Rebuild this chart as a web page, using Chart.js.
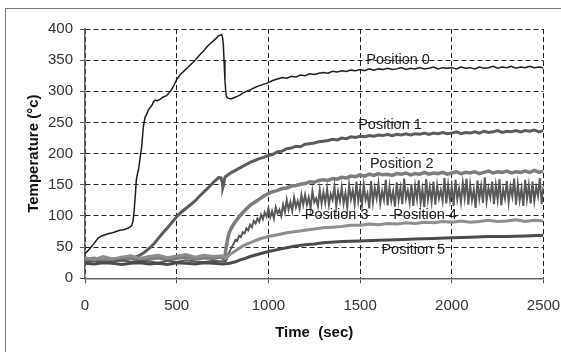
<!DOCTYPE html>
<html>
<head>
<meta charset="utf-8">
<script src="https://cdn.jsdelivr.net/npm/chart.js@4"></script>
<style>
  html, body { margin: 0; padding: 0; background: #fff; overflow: hidden; }
  #wrap { position: relative; width: 561px; height: 352px; overflow: hidden; }
  #frame { position: absolute; left: 5px; top: 8px; width: 600px; height: 400px;
           border-left: 1.5px solid #777; border-top: 1.5px solid #777; pointer-events: none; }
  canvas { position: absolute; left: 0; top: 0; }
</style>
</head>
<body>
<div id="wrap">
  <canvas id="chart" width="561" height="352"></canvas>
  <div id="frame"></div>
</div>
<script>
// time (sec) / temperature (°c) readings for each position
const pos0Time = [0,15,30,50,70,90,110,130,150,170,190,210,230,245,255,262,268,274,280,286,292,300,309,318,327,336,345,355,364,373,382,395,409,427,445,460,473,487,500,520,545,570,591,610,630,650,664,680,700,715,727,738,745,750,754,758,763,768,772,780,790,800,815,830,845,860,880,900,918,940,960,980,1000,1020,1040,1063,
  1075,1100,1125,1150,1175,1200,1225,1250,1275,1300,1325,1350,1375,1400,1425,1450,1475,1500,1525,1550,1575,1600,1625,1650,1675,1700,1725,1750,1775,1800,1825,1850,1875,1900,1925,1950,1975,2000,2025,2050,2075,2100,2125,2150,2175,2200,2225,2250,2275,2300,2325,2350,2375,2400,2425,2450,2475,2500];
const pos0Temp = [40,44,49,56,64,68,70,72,73,75,77,78,80,82,85,92,108,132,158,168,175,192,211,243,258,263,270,274,277,283,286,285,287,291,293,298,303,311,319,327,334,341,347,353,360,366,371,376,381,385,389,390,391,386,376,350,318,298,291,289,288,288,290,292,294,297,300,302,305,308,310,312,314,317,319,321,
  322,321,324,323,326,325,328,327,329,330,329,332,331,333,332,334,333,335,333,336,334,336,335,337,335,336,338,335,337,336,338,336,337,339,336,338,337,338,336,339,337,338,336,339,337,338,340,337,339,338,340,337,339,338,340,338,339,338];

const pos1Time = [0,25,50,75,100,125,150,175,200,225,250,275,300,325,350,375,400,425,450,475,500,525,550,575,600,625,650,675,700,715,730,742,748,752,756,760,765,780,800,825,850,875,900,925,950,975,1000,
  1025,1050,1075,1100,1125,1150,1175,1200,1225,1250,1275,1300,1325,1350,1375,1400,1425,1450,1475,1500,1525,1550,1575,1600,1625,1650,1675,1700,1725,1750,1775,1800,1825,1850,1875,1900,1925,1950,1975,2000,2025,2050,2075,2100,2125,2150,2175,2200,2225,2250,2275,2300,2325,2350,2375,2400,2425,2450,2475,2500];
const pos1Temp = [28,27,29,27,28,29,27,29,29,30,32,34,37,42,48,55,64,73,81,90,99,106,112,118,124,132,139,146,154,158,162,161,155,146,150,159,163,166,170,174,178,182,186,189,192,194,197,
  199,203,204,208,209,212,211,215,216,217,219,220,221,223,222,225,224,227,226,228,227,229,228,230,229,231,229,231,230,232,230,232,231,233,231,233,232,234,232,233,235,232,234,233,235,233,236,234,235,237,234,236,235,237,235,237,236,238,235,237];

const pos2Time = [0,50,100,150,200,250,300,350,400,450,500,550,600,650,700,740,755,763,770,777,785,795,809,830,850,875,900,925,950,975,1000,
  1025,1050,1075,1100,1125,1150,1175,1200,1225,1250,1275,1300,1325,1350,1375,1400,1425,1450,1475,1500,1525,1550,1575,1600,1625,1650,1675,1700,1725,1750,1775,1800,1825,1850,1875,1900,1925,1950,1975,2000,2025,2050,2075,2100,2125,2150,2175,2200,2225,2250,2275,2300,2325,2350,2375,2400,2425,2450,2475,2500];
const pos2Temp = [30,32,29,31,30,32,29,31,33,30,32,34,31,33,32,34,31,35,50,62,72,79,86,95,102,110,117,122,127,132,136,
  139,141,144,145,148,149,151,152,155,154,157,158,157,160,159,162,161,164,163,166,164,167,165,168,166,167,165,168,167,169,166,168,167,170,167,169,168,170,167,169,171,168,170,169,171,168,170,172,169,171,170,172,169,171,170,172,170,173,170,172];

// Position 3 is a very noisy trace, read every 10 s after it lifts off
const pos3Time = [0,50,100,150,200,250,300,350,400,450,500,550,600,650,700,750,770,
  780,790,800,810,820,830,840,850,860,870,880,890,900,910,920,930,940,950,960,970,980,990,
  1000,1010,1020,1030,1040,1050,1060,1070,1080,1090,1100,1110,1120,1130,1140,1150,1160,1170,1180,1190,
  1200,1210,1220,1230,1240,1250,1260,1270,1280,1290,1300,1310,1320,1330,1340,1350,1360,1370,1380,1390,
  1400,1410,1420,1430,1440,1450,1460,1470,1480,1490,1500,1510,1520,1530,1540,1550,1560,1570,1580,1590,
  1600,1610,1620,1630,1640,1650,1660,1670,1680,1690,1700,1710,1720,1730,1740,1750,1760,1770,1780,1790,
  1800,1810,1820,1830,1840,1850,1860,1870,1880,1890,1900,1910,1920,1930,1940,1950,1960,1970,1980,1990,
  2000,2010,2020,2030,2040,2050,2060,2070,2080,2090,2100,2110,2120,2130,2140,2150,2160,2170,2180,2190,
  2200,2210,2220,2230,2240,2250,2260,2270,2280,2290,2300,2310,2320,2330,2340,2350,2360,2370,2380,2390,
  2400,2410,2420,2430,2440,2450,2460,2470,2480,2490,2500];
const pos3Temp = [26,28,25,27,29,26,28,27,25,28,26,29,27,26,28,27,28,
  38,44,50,55,62,60,68,66,74,72,80,77,86,82,92,88,96,91,102,95,106,99,
  112,98,108,96,114,104,110,100,118,106,126,110,122,108,130,114,124,112,134,118,
  134,118,130,113,140,122,128,116,142,120,138,121,144,118,135,126,148,116,139,124,
  146,120,137,114,150,127,141,119,155,124,143,118,150,126,136,112,156,122,145,128,
  152,120,140,126,158,117,147,124,139,115,154,125,145,119,160,128,141,122,151,116,
  148,127,157,121,143,114,159,126,146,123,155,118,149,128,141,124,161,120,150,126,
  147,116,158,127,144,122,153,129,160,118,150,125,142,113,157,128,148,121,162,124,
  145,130,155,119,149,126,159,117,143,128,156,122,147,131,160,118,151,125,144,116,
  158,127,149,120,155,124,146,132,161,119,148];

const pos4Time = [0,50,100,150,200,250,300,350,400,450,500,550,600,650,700,750,770,785,800,825,850,875,900,925,950,975,1000,1050,1100,1150,1200,1250,1300,1350,1400,1450,1500,1550,1600,1650,1700,1750,1800,1850,1900,1950,2000,2050,2100,2150,2200,2250,2300,2350,2400,2450,2500];
const pos4Temp = [33,30,35,31,34,36,32,35,37,33,36,38,34,37,35,36,33,37,40,45,50,54,57,60,63,65,67,70,73,75,77,79,81,82,83,85,85,87,86,88,87,89,88,90,89,91,90,92,90,91,93,91,92,94,91,93,92];

const pos5Time = [0,50,100,150,200,250,300,350,400,450,500,550,600,650,700,750,790,800,825,850,875,900,950,1000,1050,1100,1150,1200,1250,1300,1400,1500,1600,1700,1800,1900,2000,2100,2200,2300,2400,2500];
const pos5Temp = [24,23,25,24,22,24,25,23,24,22,25,24,23,25,24,23,24,25,27,30,32,35,39,43,46,49,52,54,55,57,59,60,61,62,63,64,65,66,67,67,68,69];

const seriesNames = ["Position 0","Position 1","Position 2","Position 3","Position 4","Position 5"];
const labelTime = [1707, 1663, 1727, 1372, 1854, 1790];
const labelTemp = [350, 246, 184, 101, 101, 45];

const xTicks = [0, 500, 1000, 1500, 2000, 2500];
const yTicks = [0, 50, 100, 150, 200, 250, 300, 350, 400];

function zip(xs, ys) {
  return xs.map((x, i) => ({ x: x, y: ys[i] }));
}

const lineLabels = {
  id: "lineLabels",
  afterDatasetsDraw(chart) {
    const { ctx, scales: { x, y } } = chart;
    ctx.save();
    ctx.font = "14.5px 'Liberation Sans', Arial, sans-serif";
    ctx.fillStyle = "#222";
    ctx.textAlign = "center";
    ctx.textBaseline = "middle";
    seriesNames.forEach((name, i) => {
      ctx.fillText(name, x.getPixelForValue(labelTime[i]), y.getPixelForValue(labelTemp[i]));
    });
    ctx.restore();
  }
};

const font = { family: "'Liberation Sans', Arial, sans-serif", size: 15 };

new Chart(document.getElementById("chart"), {
  type: "line",
  data: {
    datasets: [
      { label: seriesNames[5], data: zip(pos5Time, pos5Temp), borderColor: "#4c4c4c", borderWidth: 3 },
      { label: seriesNames[4], data: zip(pos4Time, pos4Temp), borderColor: "#8e8e8e", borderWidth: 3 },
      { label: seriesNames[3], data: zip(pos3Time, pos3Temp), borderColor: "#5a5a5a", borderWidth: 2 },
      { label: seriesNames[2], data: zip(pos2Time, pos2Temp), borderColor: "#7d7d7d", borderWidth: 3.5 },
      { label: seriesNames[1], data: zip(pos1Time, pos1Temp), borderColor: "#5c5c5c", borderWidth: 3 },
      { label: seriesNames[0], data: zip(pos0Time, pos0Temp), borderColor: "#1e1e1e", borderWidth: 1.5 }
    ]
  },
  options: {
    responsive: false,
    animation: false,
    devicePixelRatio: 1,
    elements: { point: { radius: 0 }, line: { tension: 0, fill: false } },
    layout: { padding: { left: 0, right: 17.5, top: 29, bottom: 0 } },
    plugins: { legend: { display: false }, tooltip: { enabled: false } },
    scales: {
      x: {
        type: "linear",
        min: 0, max: 2500,
        afterBuildTicks: s => { s.ticks = xTicks.map(v => ({ value: v })); },
        afterFit: s => { s.height = 73.7; s.paddingLeft = 0; s.paddingRight = 0; },
        ticks: { font: font, color: "#333", padding: 14, callback: v => String(v) },
        grid: { color: "#222", lineWidth: 1, tickLength: 5, tickColor: "#555", tickBorderDash: [] },
        border: { color: "#666", width: 1.5, dash: [5, 3] },
        title: { display: true, text: "Time  (sec)", color: "#111", padding: { top: 0, bottom: 10.5 },
                 font: { family: font.family, size: 15, weight: "bold" } }
      },
      y: {
        min: 0, max: 400,
        afterBuildTicks: s => { s.ticks = yTicks.map(v => ({ value: v })); },
        afterFit: s => { s.width = 85; s.paddingTop = 0; s.paddingBottom = 0; },
        ticks: { font: font, color: "#333", padding: 7, callback: v => String(v) },
        grid: { color: "#222", lineWidth: 1, tickLength: 5, tickColor: "#555", tickBorderDash: [] },
        border: { color: "#666", width: 1.5, dash: [5, 3] },
        title: { display: true, text: "Temperature (°c)", color: "#111", padding: { top: 24.5, bottom: 0 },
                 font: { family: font.family, size: 15, weight: "bold" } }
      }
    }
  },
  plugins: [lineLabels]
});
</script>
</body>
</html>
